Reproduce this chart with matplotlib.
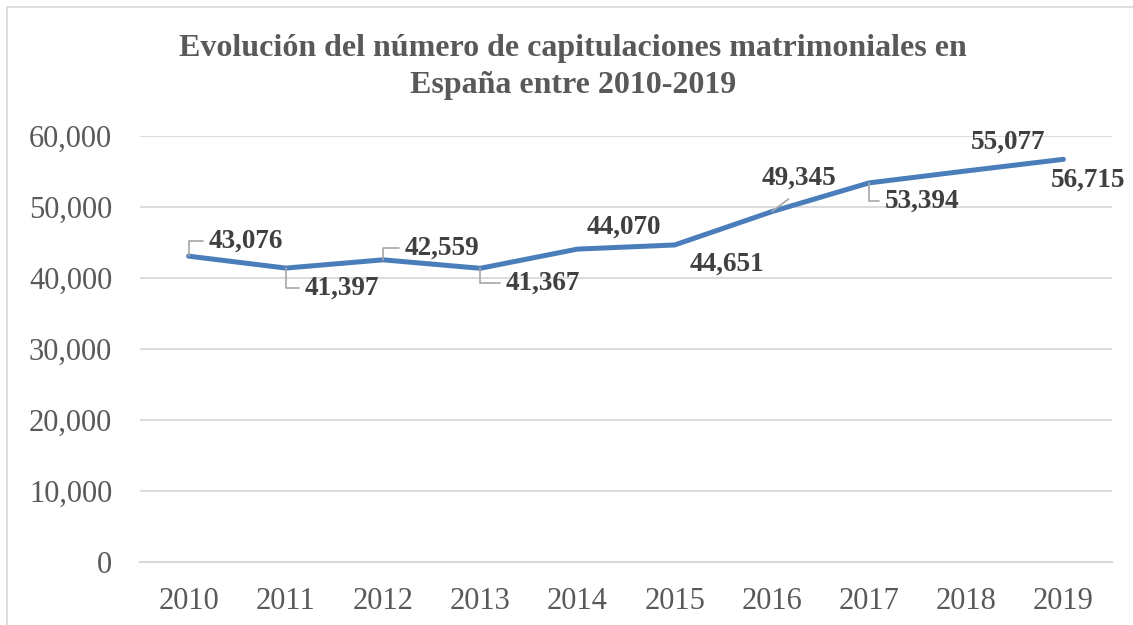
import matplotlib.pyplot as plt
import matplotlib.patches as patches
from matplotlib.ticker import FuncFormatter

# ====== data ======
years = [2010, 2011, 2012, 2013, 2014, 2015, 2016, 2017, 2018, 2019]
capitulaciones = [43076, 41397, 42559, 41367, 44070, 44651, 49345, 53394, 55077, 56715]

# label offsets (pixels, from point) and leader style
label_offsets = [(57, 15), (56, -20), (59, 12), (63, -15), (46, 22),
                 (52, -19), (27, 33), (53, -18), (42, 29), (25, -21)]
leader_style = ["angle", "angle_down", "angle", "angle_down", None,
                None, "diag", "angle_down", None, None]

title = "Evolución del número de capitulaciones matrimoniales en\nEspaña entre 2010-2019"

# ====== figure ======
plt.rcParams["font.family"] = ["Liberation Serif", "DejaVu Serif"]

fig = plt.figure(figsize=(11.33, 6.25), dpi=100)
ax = fig.add_axes([140 / 1133, 1 - 562 / 625, (1112 - 140) / 1133, 426 / 625])

# chart frame
frame = patches.Rectangle((7 / 1133, -0.1), 1.2, 1 - 7 / 625 + 0.1, transform=fig.transFigure,
                          fill=False, edgecolor="#d9d9d9", linewidth=1.2)
fig.patches.append(frame)

x = list(range(len(years)))
ax.plot(x, capitulaciones, color="#4a7ebb", linewidth=3.6, solid_capstyle="round", zorder=3)

ax.set_xlim(-0.5, len(years) - 0.5)
ax.set_ylim(0, 60000)
ax.set_yticks(range(0, 60001, 10000))
ax.yaxis.set_major_formatter(FuncFormatter(lambda v, p: f"{int(v):,}"))
ax.set_xticks(x)
ax.set_xticklabels([str(y) for y in years])

ax.grid(axis="y", color="#d9d9d9", linewidth=1.3)
ax.set_axisbelow(True)
for s in ["top", "right", "left"]:
    ax.spines[s].set_visible(False)
ax.spines["bottom"].set_color("#d9d9d9")
ax.spines["bottom"].set_linewidth(1.5)
ax.tick_params(axis="both", length=0, labelsize=22, labelcolor="#595959")
ax.tick_params(axis="y", pad=20)
ax.tick_params(axis="x", pad=18)

# data labels
for i, v in enumerate(capitulaciones):
    dx, dy = label_offsets[i]
    style = leader_style[i]
    arrow = None
    if style == "angle":
        arrow = dict(arrowstyle="-", color="#a6a6a6", lw=1.2, shrinkB=0, relpos=(0, 0.5),
                     connectionstyle="angle,angleA=0,angleB=90,rad=0")
    elif style == "angle_down":
        arrow = dict(arrowstyle="-", color="#a6a6a6", lw=1.2, shrinkB=0, relpos=(0, 0.5),
                     connectionstyle="angle,angleA=0,angleB=-90,rad=0")
    elif style == "diag":
        arrow = dict(arrowstyle="-", color="#a6a6a6", lw=1.2, shrinkA=6, shrinkB=0, relpos=(0.5, 0))
    ax.annotate(f"{v:,}", xy=(i, v), xytext=(dx, dy), textcoords="offset pixels",
                ha="center", va="center", fontsize=19.5, fontweight="bold", color="#404040",
                arrowprops=arrow, zorder=4)

fig.text(573 / 1133, 1 - 67 / 625, title, ha="center", va="center", fontsize=23,
         fontweight="bold", color="#595959", linespacing=1.35)

fig.savefig("out.png", dpi=100)
